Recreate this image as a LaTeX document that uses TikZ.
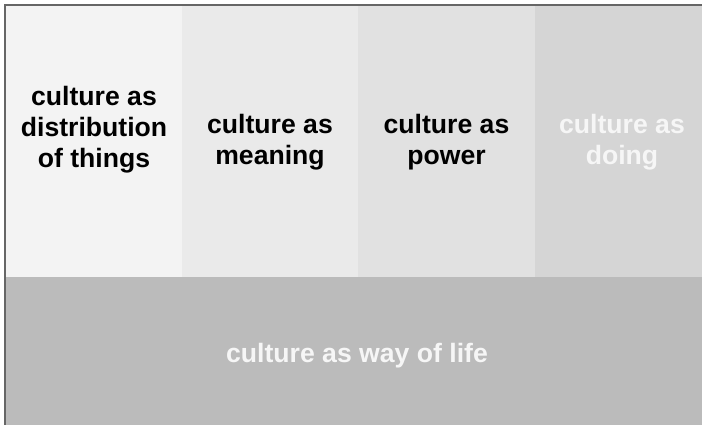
\documentclass[tikz,border=0pt]{standalone}
\usepackage{fontspec}
\setmainfont{Liberation Sans}
\definecolor{cA}{HTML}{F3F3F3}
\definecolor{cB}{HTML}{EAEAEA}
\definecolor{cC}{HTML}{E1E1E1}
\definecolor{cD}{HTML}{D5D5D5}
\definecolor{cE}{HTML}{BBBBBB}
\definecolor{frame}{HTML}{666666}
\definecolor{wtxt}{HTML}{F6F6F6}
\tikzset{
  lbl/.style={inner sep=0pt, align=center, font=\fontsize{26.6}{31}\selectfont\bfseries, text=black},
  wlbl/.style={lbl, text=wtxt}
}
\begin{document}
\begin{tikzpicture}[x=1pt,y=-1pt]
\useasboundingbox (0,0) rectangle (702,425);
\fill[white] (0,0) rectangle (702,425);
\fill[cA] (5,5) rectangle (182,277);
\fill[cB] (182,5) rectangle (358,277);
\fill[cC] (358,5) rectangle (535,277);
\fill[cD] (535,5) rectangle (702,277);
\fill[cE] (5,277) rectangle (702,425);
\draw[frame, line width=1.6pt] (702,5) -- (5,5) -- (5,425);
\node[lbl] (t1) at (94,129.5) {culture as\\distribution\\of things};
\node[lbl] (t2) at (270,142.5) {culture as\\meaning};
\node[lbl] (t3) at (446.5,142.5) {culture as\\power};
\node[wlbl] (t4) at (622,142.5) {culture as\\doing};
\node[wlbl] (t5) at (357,356) {culture as way of life};
\end{tikzpicture}
\end{document}
